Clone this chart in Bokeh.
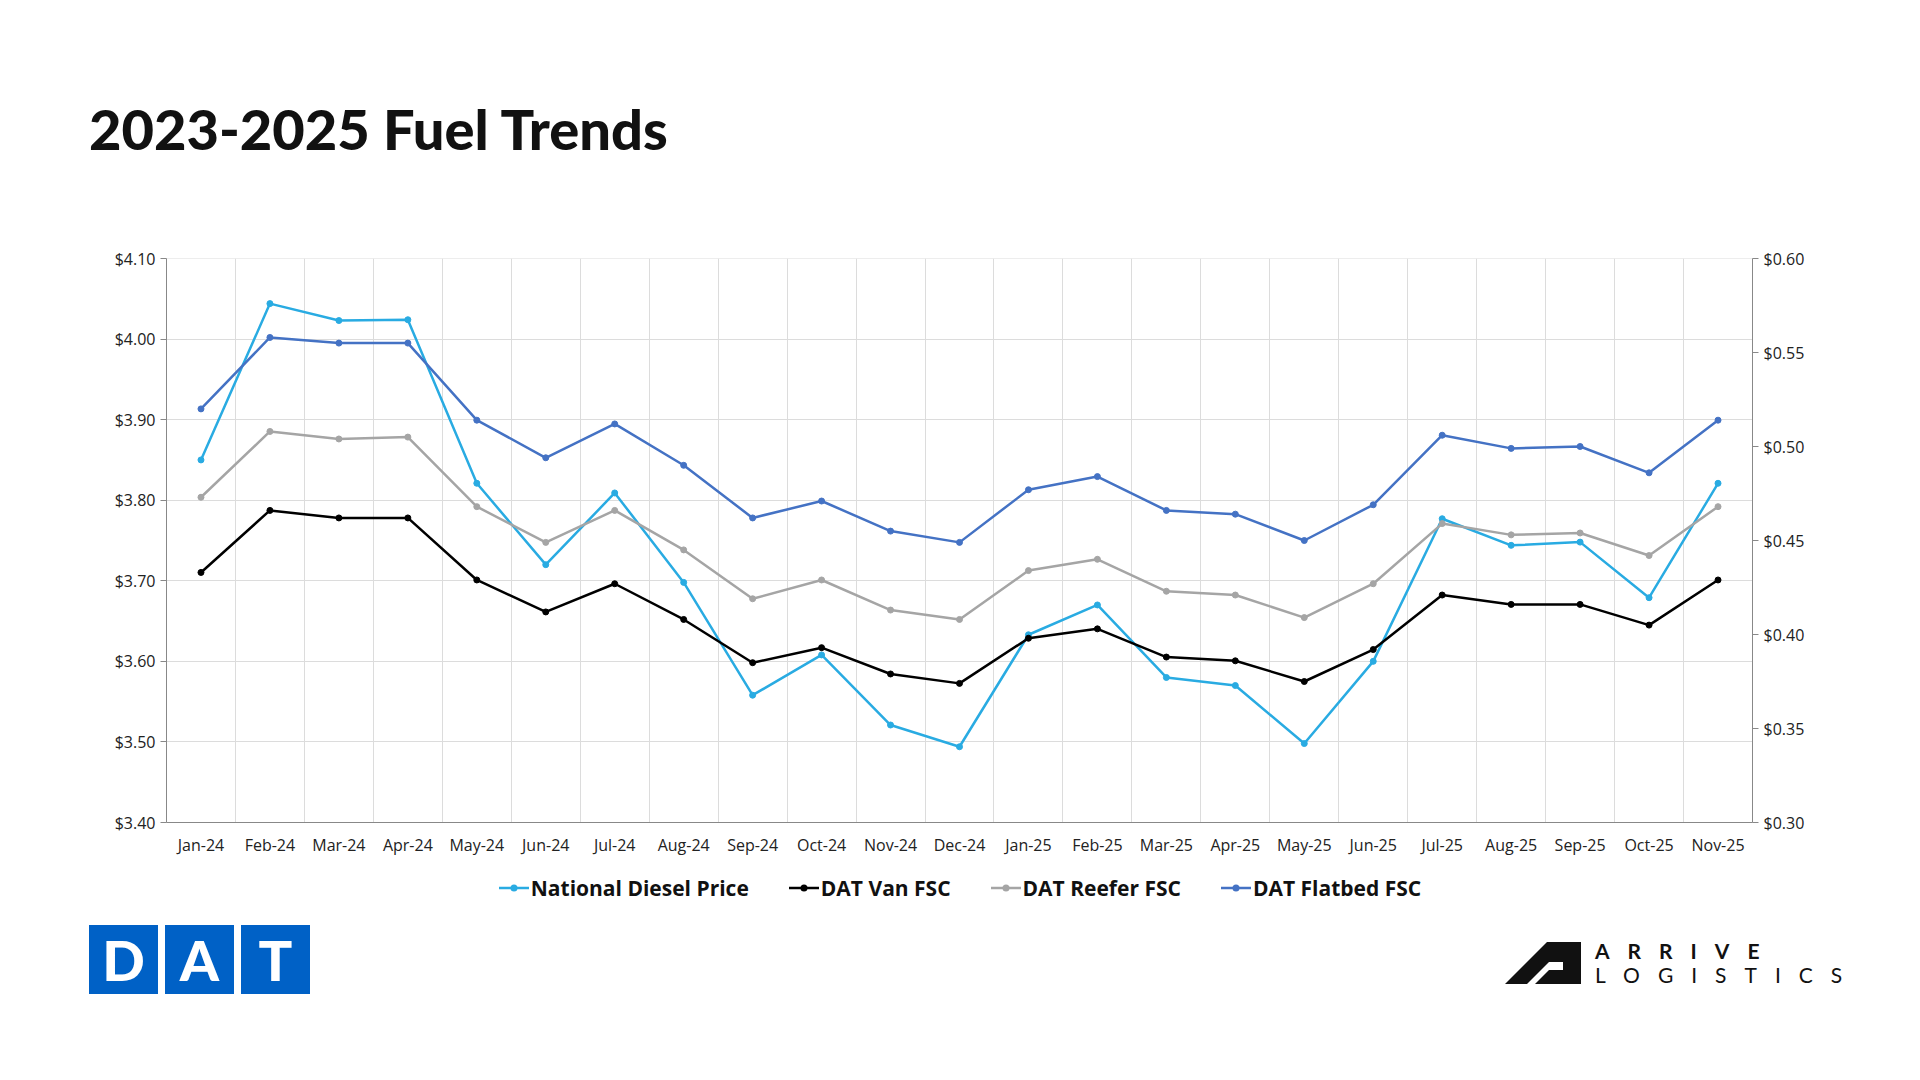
from bokeh.plotting import figure
from bokeh.models import Range1d, LinearAxis, FixedTicker, Div, NumeralTickFormatter
from bokeh.layouts import column
from bokeh.embed import file_html
from bokeh.resources import INLINE

months = ["Jan-24","Feb-24","Mar-24","Apr-24","May-24","Jun-24","Jul-24","Aug-24","Sep-24","Oct-24","Nov-24","Dec-24",
          "Jan-25","Feb-25","Mar-25","Apr-25","May-25","Jun-25","Jul-25","Aug-25","Sep-25","Oct-25","Nov-25"]
diesel = [3.850,4.044,4.023,4.024,3.821,3.720,3.809,3.698,3.558,3.608,3.521,3.494,
          3.633,3.670,3.580,3.570,3.498,3.600,3.777,3.744,3.748,3.679,3.821]
van = [0.433,0.466,0.462,0.462,0.429,0.412,0.427,0.408,0.385,0.393,0.379,0.374,
       0.398,0.403,0.388,0.386,0.375,0.392,0.421,0.416,0.416,0.405,0.429]
reefer = [0.473,0.508,0.504,0.505,0.468,0.449,0.466,0.445,0.419,0.429,0.413,0.408,
          0.434,0.440,0.423,0.421,0.409,0.427,0.459,0.453,0.454,0.442,0.468]
flatbed = [0.520,0.558,0.555,0.555,0.514,0.494,0.512,0.490,0.462,0.471,0.455,0.449,
           0.477,0.484,0.466,0.464,0.450,0.469,0.506,0.499,0.500,0.486,0.514]
left_ticks = [3.40, 3.50, 3.60, 3.70, 3.80, 3.90, 4.00, 4.10]
right_ticks = [0.30, 0.35, 0.40, 0.45, 0.50, 0.55, 0.60]

FONT = "Open Sans"
n = len(months)
xs = [i + 0.5 for i in range(n)]

title = Div(text='<div style="font-family:Lato,\'Open Sans\',sans-serif;font-weight:900;font-size:56px;color:#111;padding-left:84px;padding-top:84px;">2023-2025 Fuel Trends</div>',
            width=1900, height=150)

p = figure(width=1900, height=702, output_backend="svg", toolbar_location=None,
           x_range=Range1d(0, n), y_range=Range1d(3.40, 4.1000001),
           min_border_left=166, min_border_right=148, min_border_top=98, min_border_bottom=40)
p.extra_y_ranges = {"r": Range1d(0.30, 0.6000001)}
p.outline_line_color = None

p.xaxis.ticker = FixedTicker(ticks=xs)
p.xaxis.major_label_overrides = {x: m for x, m in zip(xs, months)}
p.xgrid.ticker = FixedTicker(ticks=list(range(n + 1)))
p.xgrid.grid_line_color = "#dcdcdc"
p.ygrid.grid_line_color = "#dcdcdc"
p.yaxis.ticker = FixedTicker(ticks=left_ticks)
p.yaxis.formatter = NumeralTickFormatter(format="$0.00")
ra = LinearAxis(y_range_name="r", ticker=FixedTicker(ticks=right_ticks),
                formatter=NumeralTickFormatter(format="$0.00"))
p.add_layout(ra, "right")
for ax in [p.xaxis[0], p.yaxis[0], ra]:
    ax.axis_line_color = "#888888"
    ax.major_tick_line_color = "#888888"
    ax.minor_tick_line_color = None
    ax.major_label_text_font = FONT
    ax.major_label_text_font_size = "16px"
    ax.major_label_text_color = "#222222"
    ax.major_tick_in = 0
    ax.major_tick_out = 6
p.xaxis.major_tick_line_color = None

series = [("National Diesel Price", diesel, "#29abe2", "default"),
          ("DAT Van FSC", van, "#000000", "r"),
          ("DAT Reefer FSC", reefer, "#a5a5a5", "r"),
          ("DAT Flatbed FSC", flatbed, "#4472c4", "r")]
leg_html = []
for name, ys, col, rng in series:
    p.line(xs, ys, line_color=col, line_width=2.5, y_range_name=rng)
    p.scatter(xs, ys, size=6, color=col, y_range_name=rng)
    leg_html.append(
        f'<div style="display:flex;align-items:center;margin:0 20px;">'
        f'<svg width="30" height="12"><line x1="0" y1="6" x2="30" y2="6" stroke="{col}" stroke-width="2.5"/>'
        f'<circle cx="15" cy="6" r="3.5" fill="{col}"/></svg>'
        f'<span style="font:700 21px \'Open Sans\',sans-serif;color:#111;margin-left:2px;">{name}</span></div>')
legend = Div(text='<div style="width:1900px;height:42px;display:flex;justify-content:center;align-items:center;padding-left:10px;">'
             + "".join(leg_html) + '</div>', width=1900, height=42)

logos = Div(text='''
<div style="position:relative;width:1900px;height:150px;">
 <div style="position:absolute;left:84px;top:6px;display:flex;gap:7px;">
  <div style="width:69px;height:69px;background:#0061c6;color:#fff;font:900 56px Lato,sans-serif;display:flex;align-items:center;justify-content:center;">D</div>
  <div style="width:69px;height:69px;background:#0061c6;color:#fff;font:900 56px Lato,sans-serif;display:flex;align-items:center;justify-content:center;">A</div>
  <div style="width:69px;height:69px;background:#0061c6;color:#fff;font:900 56px Lato,sans-serif;display:flex;align-items:center;justify-content:center;">T</div>
 </div>
 <div style="position:absolute;left:1500px;top:20px;display:flex;align-items:center;gap:14px;">
  <svg width="76" height="42" viewBox="0 0 76 42"><polygon points="0,42 42,0 76,0 76,42 58,42 58,20 44,20 22,42" fill="#111"/><polygon points="30,42 44,28 58,28 58,42" fill="#111"/></svg>
  <div style="font-family:Lato,sans-serif;color:#111;line-height:24px;">
   <div style="font-weight:700;font-size:21px;letter-spacing:18px;">ARRIVE</div>
   <div style="font-size:21px;letter-spacing:18px;">LOGISTICS</div>
  </div>
 </div>
</div>''', width=1900, height=150)

layout = column(title, p, legend, logos, spacing=0)
open("out.html", "w").write(file_html(layout, INLINE))
